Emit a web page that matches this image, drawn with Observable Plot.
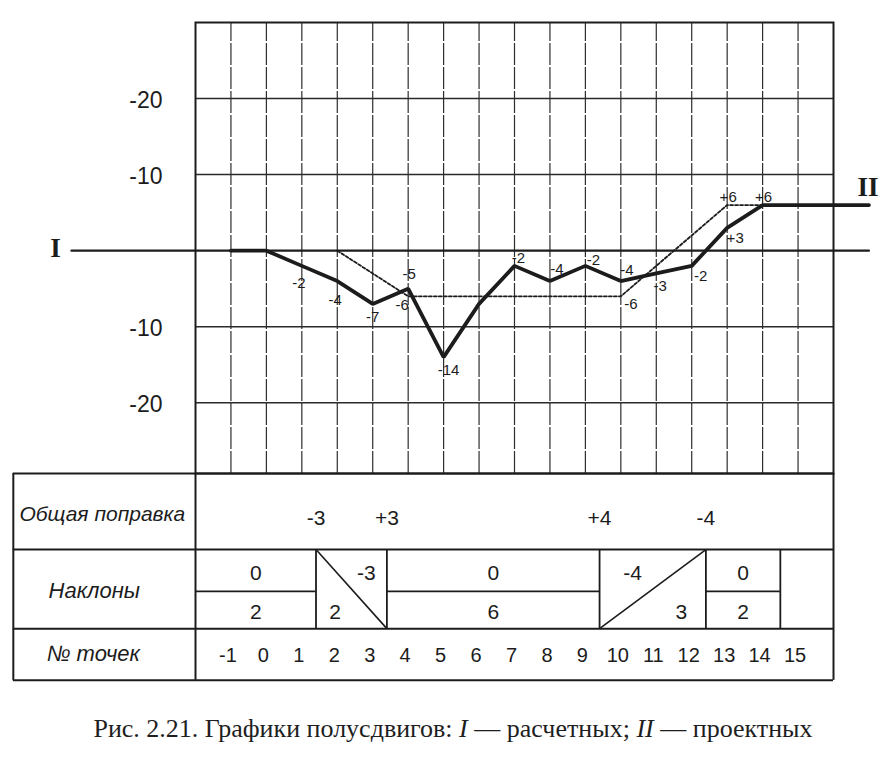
<!DOCTYPE html>
<html>
<head>
<meta charset="utf-8">
<script src="https://cdn.jsdelivr.net/npm/d3@7"></script>
<script src="https://cdn.jsdelivr.net/npm/@observablehq/plot@0.6"></script>
<style>
  html, body { margin: 0; padding: 0; background: #fff; }
  #chart svg { display: block; }
  #caption {
    font-family: "Liberation Serif", "Times New Roman", serif;
    font-size: 26px;
    color: #1e1e1e;
    width: 890px;
    box-sizing: border-box;
    padding-left: 16px;
    text-align: center;
    margin-top: 14px;
    line-height: 30px;
  }
</style>
</head>
<body>
<div id="chart"></div>
<div id="caption"></div>
<script>
// ---------------- data ----------------
const pointNumbers = [-1, 0, 1, 2, 3, 4, 5, 6, 7, 8, 9, 10, 11, 12, 13, 14, 15];
const yTicks = [20, 10, -10, -20];
const yTickLabels = ["-20", "-10", "-10", "-20"];

// thick broken line (полусдвиги)
const actualX = [-1, 0, 1, 2, 3, 4, 5, 6, 7, 8, 9, 10, 11, 12, 13, 14, 17];
const actualY = [0, 0, -2, -4, -7, -5, -14, -7, -2, -4, -2, -4, -3, -2, 3, 6, 6];
const actualLabels = ["", "", "-2", "-4", "-7", "-5", "-14", "", "-2", "-4", "-2", "-4", "-3", "-2", "+3", "+6", ""];

// thin dashed design line
const designX = [2, 4, 10, 13, 14];
const designY = [0, -6, -6, 6, 6];
const designLabels = ["", "-6", "-6", "+6", ""];

// base (zero) line extent
const baseLineX = [-5.5, 17];
const seriesNames = ["I", "II"];

// table
const rowTitles = ["Общая поправка", "Наклоны", "№ точек"];
const correctionAt = [1.4, 3.4, 9.4, 12.4];
const corrections = ["-3", "+3", "+4", "-4"];
const slopeFrom = [-2, 1.4, 3.4, 9.4, 12.4];
const slopeTo = [1.4, 3.4, 9.4, 12.4, 14.5];
const slopeValues = ["0", "-3", "0", "-4", "0"];
const slopeSpans = ["2", "2", "6", "3", "2"];
const slopeDir = [0, -1, 0, 1, 0];

// ---------------- layout (styling only) ----------------
const L = {
  top: 30, tableTop: -29.3, row1: -39.3, divider: -44.8, row2: -49.7, bottom: -56.5,
  tableLeft: -7.14, titleX: -4.63,
  row1Title: -34.6, row1Text: -35.2, slopeTop: -42.45, slopeBottom: -47.6,
  row2Title: -44.7, row3Text: -53.2, row3Title: -53.0
};
const titleSizes = [21, 22, 22];
const titleShift = [0, -8, -9];
const actualOffsets = [[0,0],[0,0],[-3,17],[-2,19],[0,13],[1,-15],[5,13],[0,0],[4,-8],[7,-12],[8,-6],[6,-11],[4,13],[9,10],[8,10],[1,-8],[0,0]];
const designOffsets = [[0,0],[-6,9],[10,8],[1,-8],[0,0]];

const INK = "#1c1c1c";
const SANS = "Liberation Sans, Arial, sans-serif";
const SERIF = "Liberation Serif, Times New Roman, serif";

const actual = actualX.map((x, i) => ({x, y: actualY[i], label: actualLabels[i], off: actualOffsets[i]}));
const design = designX.map((x, i) => ({x, y: designY[i], label: designLabels[i], off: designOffsets[i]}));
const baseLine = baseLineX.map(x => ({x, y: 0}));
const tickLabel = new Map(yTicks.map((t, i) => [t, yTickLabels[i]]));

const cells = slopeFrom.map((a, i) => ({a, b: slopeTo[i], v: slopeValues[i], s: slopeSpans[i], dir: slopeDir[i]}));
const cellText = [];
for (const c of cells) {
  const w = c.b - c.a;
  if (c.dir === 0) {
    cellText.push({x: c.a + w / 2, y: L.slopeTop, t: c.v});
    cellText.push({x: c.a + w / 2, y: L.slopeBottom, t: c.s});
  } else if (c.dir < 0) {
    cellText.push({x: c.a + 0.71 * w, y: L.slopeTop, t: c.v});
    cellText.push({x: c.a + 0.27 * w, y: L.slopeBottom, t: c.s});
  } else {
    cellText.push({x: c.a + 0.31 * w, y: L.slopeTop, t: c.v});
    cellText.push({x: c.a + 0.77 * w, y: L.slopeBottom, t: c.s});
  }
}
const diagonals = cells.filter(c => c.dir !== 0).map(c => c.dir < 0
  ? {x1: c.a, y1: L.row1, x2: c.b, y2: L.row2}
  : {x1: c.a, y1: L.row2, x2: c.b, y2: L.row1});
const flatCells = cells.filter(c => c.dir === 0);
const cellEdges = [...slopeFrom.slice(1), slopeTo[slopeTo.length - 1]];

const labelMarks = [];
for (const d of [...actual, ...design].filter(d => d.label)) {
  labelMarks.push(Plot.text([d], {x: "x", y: "y", text: "label", dx: d.off[0], dy: d.off[1],
    fontSize: 15, fontFamily: SANS, fill: INK, stroke: "#fff", strokeWidth: 0}));
}
const titleRows = [L.row1Title, L.row2Title, L.row3Title];
const titleMarks = rowTitles.map((t, i) => Plot.text([t], {x: () => L.titleX, y: () => titleRows[i], text: d => d,
  dx: titleShift[i], fontStyle: "italic", fontSize: titleSizes[i], fill: INK}));

const H = 700;
const chart = Plot.plot({
  width: 890,
  height: H,
  marginLeft: 195,
  marginRight: 57,
  marginTop: 22,
  marginBottom: H - 473,
  x: {domain: [-2, 16], axis: null},
  y: {domain: [L.tableTop, L.top], axis: null},
  style: {fontFamily: SANS, background: "#fff", color: INK},
  marks: [
    // grid
    Plot.ruleX(d3.range(-1, 16), {y1: L.tableTop, y2: L.top, stroke: "#2e2e2e", strokeWidth: 1.2, strokeDasharray: "22,2"}),
    Plot.ruleY(yTicks, {stroke: "#2a2a2a", strokeWidth: 1.5}),
    Plot.frame({stroke: INK, strokeWidth: 2}),
    // y labels
    Plot.axisY(yTicks, {tickFormat: d => tickLabel.get(d), tickSize: 0, tickPadding: 33, fontSize: 23, label: null, dy: 2, fill: INK}),
    // base line I
    Plot.line(baseLine, {x: "x", y: "y", stroke: INK, strokeWidth: 2.2}),
    // design dashed line
    Plot.line(design, {x: "x", y: "y", stroke: INK, strokeWidth: 1.8, strokeDasharray: "3,2"}),
    // thick line
    Plot.line(actual, {x: "x", y: "y", stroke: INK, strokeWidth: 3.8, strokeLinejoin: "miter"}),
    ...labelMarks,
    // series labels
    Plot.text([{x: baseLineX[0], y: 0, t: seriesNames[0]}], {x: "x", y: "y", text: "t", dx: -16, dy: -2,
      fontFamily: SERIF, fontWeight: "bold", fontSize: 27, fill: INK}),
    Plot.text([{x: actualX[actualX.length - 1], y: actualY[actualY.length - 1], t: seriesNames[1]}], {x: "x", y: "y", text: "t", dx: -1, dy: -18,
      fontFamily: SERIF, fontWeight: "bold", fontSize: 27, fill: INK}),
    // table frame
    Plot.ruleY([L.tableTop, L.row1, L.row2, L.bottom], {x1: L.tableLeft, x2: 16, stroke: INK, strokeWidth: 2}),
    Plot.ruleX([L.tableLeft, -2, 16], {y1: L.bottom, y2: L.tableTop, stroke: INK, strokeWidth: 2}),
    Plot.ruleX(cellEdges, {y1: L.row2, y2: L.row1, stroke: INK, strokeWidth: 1.8}),
    Plot.ruleY(flatCells, {y: () => L.divider, x1: "a", x2: "b", stroke: INK, strokeWidth: 1.8}),
    Plot.link(diagonals, {x1: "x1", y1: "y1", x2: "x2", y2: "y2", stroke: INK, strokeWidth: 1.6}),
    // table text
    ...titleMarks,
    Plot.text(corrections, {x: (d, i) => correctionAt[i], y: () => L.row1Text, text: d => d, fontSize: 21, fill: INK}),
    Plot.text(cellText, {x: "x", y: "y", text: "t", fontSize: 21, fill: INK}),
    Plot.text(pointNumbers, {x: d => d, y: () => L.row3Text, text: d => String(d), dx: -3, fontSize: 20, fill: INK})
  ]
});
document.getElementById("chart").appendChild(chart);
document.getElementById("caption").innerHTML =
  "Рис. 2.21. Графики полусдвигов: <i>I</i> — расчетных; <i>II</i> — проектных";
</script>
</body>
</html>
